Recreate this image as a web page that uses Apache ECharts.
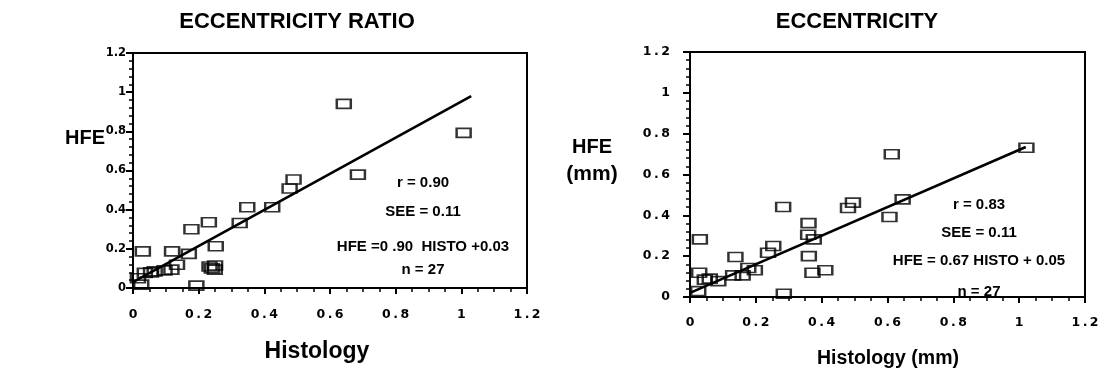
<!DOCTYPE html>
<html>
<head>
<meta charset="utf-8">
<script src="https://cdn.jsdelivr.net/npm/echarts@6/dist/echarts.min.js"></script>
<style>
  html, body { margin: 0; padding: 0; background: #fff; }
  #chart { width: 1116px; height: 382px; }
</style>
</head>
<body>
<div id="chart"></div>
<script>
// eccentricity ratio panel (left)
const ratioHisto = [0.030, 0.025, 0.015, 0.036, 0.055, 0.066, 0.096, 0.117, 0.119, 0.134,
  0.170, 0.178, 0.193, 0.231, 0.252, 0.233, 0.250, 0.249, 0.240, 0.325,
  0.348, 0.424, 0.477, 0.489, 0.642, 0.685, 1.007];
const ratioHfe = [0.187, 0.017, 0.050, 0.077, 0.080, 0.085, 0.090, 0.094, 0.187, 0.119,
  0.174, 0.300, 0.012, 0.336, 0.213, 0.110, 0.115, 0.094, 0.100, 0.332,
  0.412, 0.412, 0.508, 0.554, 0.940, 0.579, 0.792];
const ratioFitX = [0, 1.03];
const ratioFitY = [0.03, 0.98];
const ratioStats = ['r = 0.90', 'SEE = 0.11', 'HFE =0 .90  HISTO +0.03', 'n = 27'];

// eccentricity panel (right), mm
const eccHisto = [0.030, 0.028, 0.025, 0.045, 0.060, 0.086, 0.138, 0.131, 0.160, 0.177,
  0.197, 0.237, 0.253, 0.283, 0.285, 0.360, 0.359, 0.376, 0.361, 0.372,
  0.411, 0.480, 0.495, 0.606, 0.613, 0.646, 1.022];
const eccHfe = [0.282, 0.119, 0.029, 0.085, 0.090, 0.078, 0.196, 0.106, 0.106, 0.142,
  0.131, 0.217, 0.250, 0.441, 0.016, 0.362, 0.305, 0.282, 0.200, 0.119,
  0.131, 0.436, 0.462, 0.392, 0.699, 0.478, 0.731];
const eccFitX = [0, 1.02];
const eccFitY = [0.02, 0.735];
const eccStats = ['r = 0.83', 'SEE = 0.11', 'HFE = 0.67 HISTO + 0.05', 'n = 27'];

let chart = echarts.init(document.getElementById('chart'));

let pairs = (xs, ys) => xs.map((x, i) => [x, ys[i]]);

// old plotting software spaced its tick digits: "0 . 2"
let tickText = (v) => {
  let s = String(Number(v.toFixed(1)));
  return s.replace('.', '\u2009.\u2009');
};
let tightText = (v) => String(Number(v.toFixed(1)));

let labelFont = (size) => ({
  fontFamily: 'DejaVu Sans',
  fontWeight: 'bold',
  fontSize: size,
  color: '#000'
});

let makeX = (gridIndex, margin) => ({
  gridIndex: gridIndex,
  type: 'value',
  min: 0,
  max: 1.2,
  interval: 0.2,
  axisLine: { show: true, onZero: false, lineStyle: { color: '#000', width: 2 } },
  axisTick: { show: true, length: 6, lineStyle: { color: '#000', width: 2 } },
  minorTick: { show: true, splitNumber: 4, length: 4, lineStyle: { color: '#000', width: 1.5 } },
  splitLine: { show: false },
  axisLabel: Object.assign({ margin: margin, formatter: tickText }, labelFont(12.5))
});

let makeY = (gridIndex, margin, fmt, size) => ({
  gridIndex: gridIndex,
  type: 'value',
  min: 0,
  max: 1.2,
  interval: 0.2,
  axisLine: { show: true, onZero: false, lineStyle: { color: '#000', width: 2 } },
  axisTick: { show: true, length: 7, lineStyle: { color: '#000', width: 2 } },
  minorTick: { show: true, splitNumber: 5, length: 4, lineStyle: { color: '#000', width: 1.5 } },
  splitLine: { show: false },
  axisLabel: Object.assign({ margin: margin, formatter: fmt }, labelFont(size))
});

let boxSymbol = {
  type: 'scatter',
  symbol: 'rect',
  symbolSize: [14, 9],
  itemStyle: { color: 'rgba(255,255,255,0)', borderColor: '#000', borderWidth: 2 },
  z: 3
};

let fitLine = {
  type: 'line',
  symbol: 'none',
  lineStyle: { color: '#000', width: 2.6 },
  z: 2
};

let textOf = (s, x, y, size) => ({
  text: s,
  left: x,
  top: y,
  padding: 0,
  textAlign: 'center',
  textVerticalAlign: 'middle',
  textStyle: { fontFamily: 'Liberation Sans', fontWeight: 'bold', fontSize: size, color: '#000' }
});

let option = {
  backgroundColor: '#fff',
  animation: false,
  title: [
    textOf('ECCENTRICITY RATIO', 297, 22, 22),
    textOf('ECCENTRICITY', 857, 22, 22),
    textOf('HFE', 85, 138, 20),
    textOf('HFE', 592, 147, 20),
    textOf('(mm)', 592, 174, 21),
    textOf('Histology', 317, 352, 23),
    textOf('Histology (mm)', 888, 359, 19.5)
  ],
  grid: [
    { left: 133, top: 53, width: 394, height: 235, show: true, borderColor: '#000', borderWidth: 2, backgroundColor: 'transparent' },
    { left: 690, top: 52, width: 395, height: 245, show: true, borderColor: '#000', borderWidth: 2, backgroundColor: 'transparent' }
  ],
  xAxis: [makeX(0, 20), makeX(1, 19)],
  yAxis: [makeY(0, 7, tightText, 11.5), makeY(1, 20, tickText, 12.5)],
  series: [
    Object.assign({ xAxisIndex: 0, yAxisIndex: 0, data: pairs(ratioFitX, ratioFitY) }, fitLine),
    Object.assign({ xAxisIndex: 0, yAxisIndex: 0, data: pairs(ratioHisto, ratioHfe) }, boxSymbol),
    Object.assign({ xAxisIndex: 1, yAxisIndex: 1, data: pairs(eccFitX, eccFitY) }, fitLine),
    Object.assign({ xAxisIndex: 1, yAxisIndex: 1, data: pairs(eccHisto, eccHfe) }, boxSymbol)
  ],
  graphic: []
};

// annotation blocks, centred under each other
let ratioY = [183, 212, 247, 270];
let eccY = [205, 233, 261, 292];
ratioStats.forEach((s, i) => {
  option.graphic.push({
    type: 'text', x: 423, y: ratioY[i],
    style: { text: s, align: 'center', verticalAlign: 'middle', fill: '#000', font: 'bold 15px "Liberation Sans"' }
  });
});
eccStats.forEach((s, i) => {
  option.graphic.push({
    type: 'text', x: 979, y: eccY[i],
    style: { text: s, align: 'center', verticalAlign: 'middle', fill: '#000', font: 'bold 15px "Liberation Sans"' }
  });
});

chart.setOption(option);
</script>
</body>
</html>
